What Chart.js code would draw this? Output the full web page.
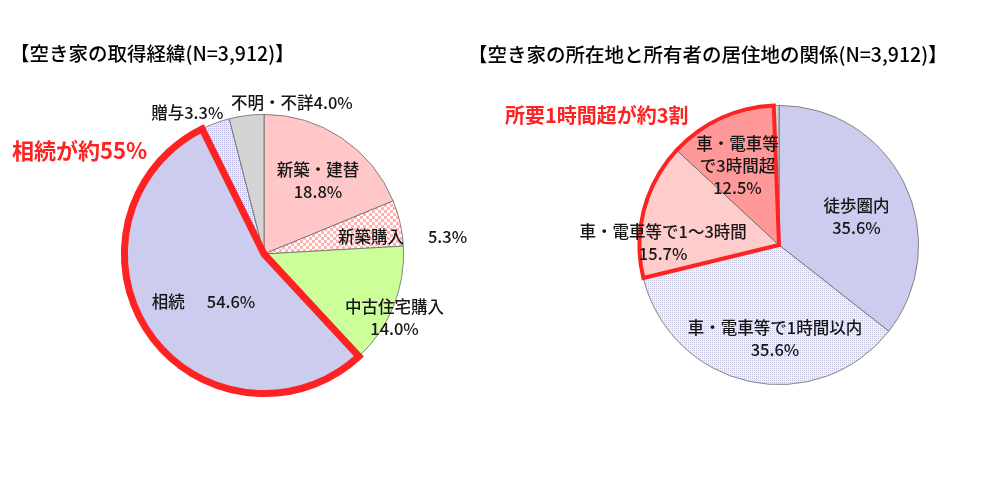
<!DOCTYPE html>
<html lang="ja">
<head>
<meta charset="utf-8">
<script src="https://cdn.jsdelivr.net/npm/chart.js@4.4.1/dist/chart.umd.min.js"></script>
<style>
	body { margin: 0; background: #fff; width: 1000px; height: 486px; overflow: hidden; position: relative; }
	.box { position: absolute; top: 0; height: 486px; }
</style>
</head>
<body>
<div class="box" style="left:0;width:500px"><canvas id="acquireChart" width="500" height="486"></canvas></div>
<div class="box" style="left:460px;width:540px"><canvas id="distanceChart" width="540" height="486"></canvas></div>
<script>
// data (percent, N=3,912)
const acquireLabels = ['新築・建替', '新築購入', '中古住宅購入', '相続', '贈与', '不明・不詳'];
const acquireValues = [18.8, 5.3, 14.0, 54.6, 3.3, 4.0];

const distanceLabels = ['徒歩圏内', '車・電車等で1時間以内', '車・電車等で1～3時間', '車・電車等\nで3時間超', ''];
const distanceValues = [35.6, 35.6, 15.7, 12.5, 0.6];

const FONT = '"Noto Sans CJK JP", "Noto Sans", sans-serif';
const LABEL_FONT = '500 16.5px ' + FONT;
const RED = '#ff2222';

function checker(a, b, size) {
	const c = document.createElement('canvas');
	c.width = c.height = size * 2;
	const x = c.getContext('2d');
	x.fillStyle = b;
	x.fillRect(0, 0, size * 2, size * 2);
	x.fillStyle = a;
	x.fillRect(0, 0, size, size);
	x.fillRect(size, size, size, size);
	return x.createPattern(c, 'repeat');
}

function dots(bg, fg) {
	const c = document.createElement('canvas');
	c.width = c.height = 2;
	const x = c.getContext('2d');
	x.fillStyle = bg;
	x.fillRect(0, 0, 2, 2);
	x.fillStyle = fg;
	x.fillRect(0, 0, 1, 1);
	return x.createPattern(c, 'repeat');
}

// labels, titles and the red outline
const pieText = {
	id: 'pieText',
	afterDatasetsDraw(chart, args, opts) {
		const ctx = chart.ctx;
		const meta = chart.getDatasetMeta(0);
		const values = chart.data.datasets[0].data;
		ctx.save();

		// red outline round the highlighted slices
		const first = meta.data[opts.outline[0]];
		const last = meta.data[opts.outline[opts.outline.length - 1]];
		ctx.beginPath();
		ctx.moveTo(first.x, first.y);
		ctx.arc(first.x, first.y, first.outerRadius, first.startAngle, last.endAngle);
		ctx.closePath();
		ctx.lineWidth = opts.outlineWidth;
		ctx.lineJoin = 'miter';
		ctx.strokeStyle = RED;
		ctx.stroke();

		// slice labels
		ctx.font = LABEL_FONT;
		ctx.fillStyle = '#161616';
		ctx.textBaseline = 'middle';
		meta.data.forEach((arc, i) => {
			const p = opts.place[i];
			if (!p) return;
			const a = (arc.startAngle + arc.endAngle) / 2 + p.da * Math.PI / 180;
			const x = arc.x + Math.cos(a) * arc.outerRadius * p.r;
			const y = arc.y + Math.sin(a) * arc.outerRadius * p.r;
			const name = chart.data.labels[i];
			const pct = values[i].toFixed(1) + '%';
			if (p.mode === 'inline') {
				const w1 = ctx.measureText(name).width;
				const w2 = ctx.measureText(pct).width;
				const left = x - (w1 + p.gap + w2) / 2;
				ctx.textAlign = 'left';
				ctx.fillText(name, left, y);
				ctx.fillText(pct, left + w1 + p.gap, y);
				return;
			}
			const lines = p.mode === 'join' ? [name + pct] : name.split('\n').concat(pct);
			ctx.textAlign = 'center';
			const lh = 22;
			lines.forEach((t, k) => {
				ctx.fillText(t, x, y + (k - (lines.length - 1) / 2) * lh);
			});
		});

		// title
		ctx.textAlign = 'left';
		ctx.fillStyle = '#000';
		ctx.font = '500 19.5px ' + FONT;
		ctx.fillText(opts.title, opts.titleX, opts.titleY);

		// red callout
		ctx.fillStyle = RED;
		ctx.font = 'bold ' + opts.calloutSize + 'px ' + FONT;
		ctx.fillText(opts.callout, opts.calloutX, opts.calloutY);
		ctx.restore();
	}
};

const acquireChart = new Chart(document.getElementById('acquireChart'), {
	type: 'pie',
	data: {
		labels: acquireLabels,
		datasets: [{
			data: acquireValues,
			backgroundColor: [
				'#ffc7c7',
				checker('#ffb4b4', '#ffffff', 3),
				'#ccff99',
				'#ccccee',
				dots('#ececf8', '#b4b4de'),
				'#d4d4d4'
			],
			borderColor: '#6a6a6a',
			borderWidth: 0.8,
			hoverOffset: 0
		}]
	},
	options: {
		responsive: false,
		animation: false,
		events: [],
		layout: { padding: { left: 124, right: 96, top: 114, bottom: 92 } },
		plugins: {
			legend: { display: false },
			tooltip: { enabled: false },
			pieText: {
				outline: [3],
				outlineWidth: 7,
				place: [
					{ mode: 'stack', r: 0.65, da: 2.7 },
					{ mode: 'inline', r: 1.0, da: 5.7, gap: 24 },
					{ mode: 'stack', r: 1.04, da: 4 },
					{ mode: 'inline', r: 0.55, da: -3.5, gap: 22 },
					{ mode: 'join', r: 1.15, da: -8.2 },
					{ mode: 'join', r: 1.10, da: 17.7 }
				],
				title: '【空き家の取得経緯(N=3,912)】',
				titleX: 10,
				titleY: 54,
				callout: '相続が約55%',
				calloutSize: 22,
				calloutX: 12,
				calloutY: 151
			}
		}
	},
	plugins: [pieText]
});

const distanceChart = new Chart(document.getElementById('distanceChart'), {
	type: 'pie',
	data: {
		labels: distanceLabels,
		datasets: [{
			data: distanceValues,
			backgroundColor: [
				'#ccccee',
				dots('#f0f0f6', '#c4c4dc'),
				'#ffcccc',
				'#ff9999',
				'#d4d4d4'
			],
			borderColor: '#6a6a6a',
			borderWidth: 0.8,
			hoverOffset: 0
		}]
	},
	options: {
		responsive: false,
		animation: false,
		events: [],
		layout: { padding: { left: 179, right: 81, top: 105, bottom: 101 } },
		plugins: {
			legend: { display: false },
			tooltip: { enabled: false },
			pieText: {
				outline: [2, 3],
				outlineWidth: 4,
				place: [
					{ mode: 'stack', r: 0.59, da: 6.1 },
					{ mode: 'stack', r: 0.67, da: -9.8 },
					{ mode: 'stack', r: 0.83, da: -13.6 },
					{ mode: 'stack', r: 0.64, da: -3 },
					null
				],
				title: '【空き家の所在地と所有者の居住地の関係(N=3,912)】',
				titleX: 8,
				titleY: 55,
				callout: '所要1時間超が約3割',
				calloutSize: 20,
				calloutX: 45,
				calloutY: 115
			}
		}
	},
	plugins: [pieText]
});
</script>
</body>
</html>
